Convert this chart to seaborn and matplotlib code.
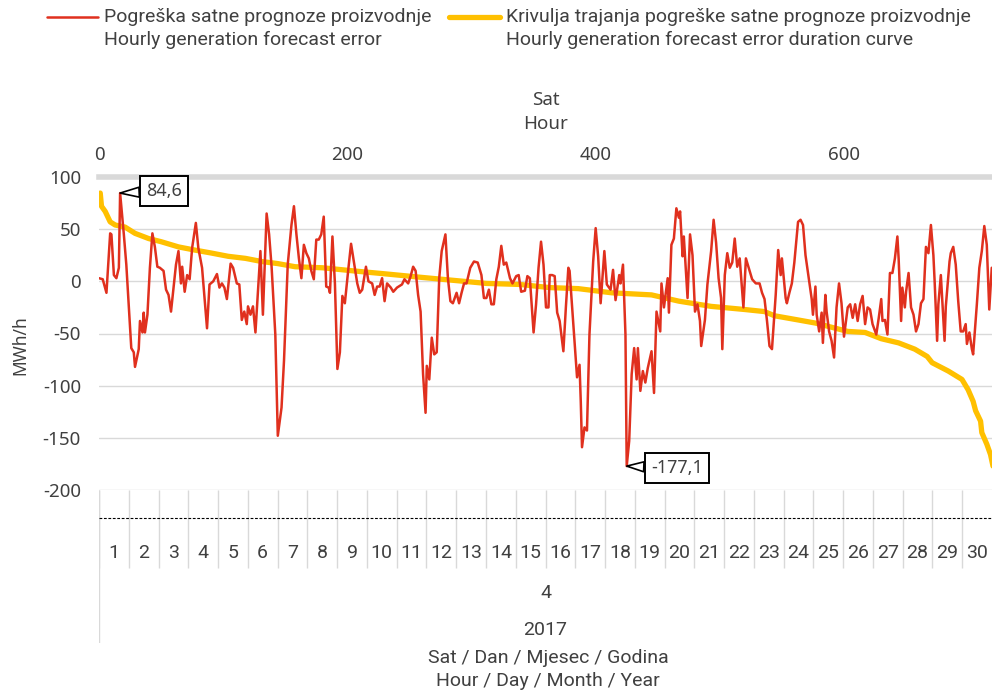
import numpy as np
import pandas as pd
import seaborn as sns
import matplotlib.pyplot as plt
from matplotlib.lines import Line2D

sns.set_theme(style="white")
plt.rcParams['font.family'] = ['Noto Sans', 'DejaVu Sans']
NARROW = ['Roboto', 'DejaVu Sans']

# hourly forecast error, April 2017
red_hours = [0, 3, 6, 9, 10, 12, 14, 16, 17, 20, 22, 26, 28, 29, 32, 33, 35, 36, 37, 39,
             41, 43, 45, 47, 49, 52, 54, 56, 58, 60, 62, 64, 66, 67, 69, 71, 73, 75, 78, 80,
             83, 87, 89, 92, 95, 97, 99, 101, 103, 106, 108, 111, 113, 115, 117, 119, 120, 122, 124, 126,
             128, 130, 132, 135, 137, 139, 142, 144, 147, 149, 152, 155, 157, 159, 161, 163, 165, 167, 169, 171,
             173, 175, 177, 179, 181, 183, 185, 186, 188, 190, 192, 194, 196, 198, 201, 203, 206, 208, 210, 212,
             215, 217, 220, 222, 224, 226, 228, 230, 232, 235, 237, 240, 244, 246, 249, 251, 253, 255, 257, 259,
             261, 263, 264, 266, 268, 270, 272, 274, 276, 279, 281, 283, 285, 288, 290, 292, 294, 296, 299, 302,
             305, 307, 308, 310, 312, 314, 316, 318, 320, 322, 324, 326, 328, 331, 333, 336, 338, 340, 343, 345,
             347, 350, 352, 354, 356, 358, 360, 362, 363, 365, 367, 369, 371, 374, 376, 378, 379, 382, 384, 385,
             387, 388, 389, 391, 393, 395, 398, 400, 402, 404, 407, 409, 412, 414, 416, 419, 420, 422, 424, 425,
             427, 429, 431, 433, 434, 436, 438, 440, 442, 445, 447, 449, 452, 453, 455, 458, 459, 461, 463, 465,
             467, 468, 470, 471, 474, 476, 478, 480, 482, 484, 485, 488, 490, 493, 495, 497, 499, 501, 502, 504,
             506, 508, 510, 512, 514, 516, 519, 521, 524, 526, 529, 532, 534, 536, 538, 540, 542, 545, 547, 549,
             550, 553, 554, 556, 558, 560, 563, 565, 567, 569, 571, 574, 575, 577, 578, 580, 582, 583, 585, 586,
             588, 590, 592, 594, 596, 598, 600, 603, 605, 607, 609, 611, 613, 615, 617, 619, 621, 623, 626, 628,
             630, 631, 633, 635, 637, 639, 641, 643, 644, 646, 647, 649, 650, 652, 654, 656, 658, 660, 662, 664,
             666, 668, 670, 672, 673, 675, 676, 678, 681, 682, 685, 686, 688, 690, 692, 694, 696, 698, 699, 701,
             703, 704, 707, 709, 711, 713, 715, 717, 719]
red_mwh = [3, 2, -11, 46, 45, 6, 3, 13, 84.6, 45, 16, -64, -68, -82, -65, -38, -49, -30, -49, -32,
           13, 46, 33, 14, 13, 10, -8, -13, -29, -6, 16, 29, -2, 14, -10, 6, 2, 32, 56, 32,
           13, -45, -3, 0, 7, -6, -2, -6, -17, 17, 13, -2, -3, -37, -29, -41, -24, -32, -24, -49,
           -10, 29, -32, 65, 45, 14, -51, -148, -121, -76, 16, 54, 72, 45, 22, 3, 35, 27, 22, 10,
           2, 40, 40, 45, 62, -5, -6, -11, 43, -2, -84, -68, -14, -21, 14, 36, 13, -2, -11, -8,
           14, 0, -2, -13, -5, -5, 3, -19, -2, -6, -10, -6, -3, 2, -2, 5, 14, 10, -13, -29,
           -89, -126, -81, -94, -54, -70, -68, 3, 29, 45, 3, -19, -21, -11, -21, -11, -2, -2, 13, 19,
           18, 10, 6, -16, -16, -8, -22, -22, 2, 14, 34, 16, 18, 3, -2, 5, 6, -10, -9, 5,
           3, -49, -22, 13, 38, 16, -25, -25, 6, 6, 5, -30, -38, -67, -25, 13, 10, -41, -76, -92,
           -80, -115, -159, -140, -143, -51, 19, 51, 24, -21, 29, -3, -8, 11, -18, 6, -2, 16, -51, -177.1,
           -153, -89, -64, -94, -64, -105, -86, -97, -83, -67, -107, -29, -48, -2, -25, 3, -30, 35, 41, 70,
           61, 67, 24, 43, -16, 45, 25, -29, -22, -38, -62, -37, -3, 29, 59, 37, 3, -16, -65, 6,
           27, 13, 18, 41, 14, 22, -25, 22, 10, 2, -2, -2, -11, -17, -38, -62, -65, -13, 30, 6,
           22, -16, -21, -11, -2, 18, 57, 59, 54, 25, 8, -17, -32, -5, -32, -48, -30, -59, -13, -29,
           -48, -57, -73, -25, -2, -21, -53, -25, -22, -35, -22, -38, -22, -14, -41, -25, -27, -41, -51, -35,
           -17, -38, -37, -51, 8, 8, 22, 43, 22, -38, -6, -25, -10, 8, -25, -32, -48, -41, -21, -17,
           33, 27, 54, 25, 0, -57, -22, 6, -57, -24, 19, 27, 33, 16, -19, -48, -48, -41, -60, -49,
           -65, -70, -22, 13, 29, 53, 35, -27, 13]

# duration curve of the same error
dur_hours = [1, 2, 5, 9, 13, 21, 29, 40, 50, 64, 77, 91, 104, 118, 131, 144, 158, 180, 205, 232,
             258, 285, 312, 339, 363, 386, 413, 445, 467, 493, 520, 536, 544, 563, 577, 590, 603, 617, 630, 644,
             657, 667, 671, 684, 695, 700, 704, 706, 710, 711, 715, 718, 720]
dur_mwh = [84.6, 72, 67, 57, 54, 52, 46, 41, 38, 33, 30, 27, 24, 22, 19, 17, 14, 13, 10, 7,
           4, 1, -2, -3, -6, -7, -11, -13, -19, -24, -27, -29, -33, -37, -40, -44, -48, -49, -55, -59,
           -65, -72, -78, -86, -94, -104, -115, -124, -134, -145, -156, -166, -177.1]

days = [str(d) for d in range(1, 31)]
month = "4"
year = "2017"
y_ticks = [-200, -150, -100, -50, 0, 50, 100]
top_ticks = [0, 200, 400, 600]

RED = '#E0301E'
YEL = '#FFC000'
GRID = '#D9D9D9'
TXT = '#404040'

err = pd.DataFrame({'h': red_hours, 'v': red_mwh})
dur = pd.DataFrame({'h': dur_hours, 'v': dur_mwh})

W, H = 992, 690
fig = plt.figure(figsize=(W / 100, H / 100), dpi=100)
ax = fig.add_axes([99 / W, (H - 490) / H, 893 / W, 313 / H])

sns.lineplot(data=err, x='h', y='v', ax=ax, color=RED, lw=1.8, estimator=None, zorder=3)
sns.lineplot(data=dur, x='h', y='v', ax=ax, color=YEL, lw=3.8, estimator=None, zorder=2)

ax.set_xlim(0, 719.2)
ax.set_ylim(-200, 100)
ax.set_yticks(y_ticks)
ax.set_yticklabels([str(t) for t in y_ticks], color=TXT, fontsize=13.5)
ax.tick_params(axis='y', length=0, pad=13)
ax.set_xticks([])
ax.set_xlabel('')
ax.set_ylabel('')
ax.grid(axis='y', color=GRID, lw=1)
for s in ['left', 'right', 'bottom']:
    ax.spines[s].set_visible(False)
ax.spines['top'].set_color(GRID)
ax.spines['top'].set_linewidth(4)

top = ax.secondary_xaxis('top')
top.set_xticks(top_ticks)
top.set_xticklabels([str(t) for t in top_ticks], color=TXT, fontsize=13.5)
top.tick_params(length=0, pad=9)
top.spines['top'].set_visible(False)

fig.text(546 / W, 1 - 100 / H, 'Sat', ha='center', va='center', fontsize=13.5, color=TXT)
fig.text(546 / W, 1 - 124 / H, 'Hour', ha='center', va='center', fontsize=13.5, color=TXT)
fig.text(20 / W, 1 - 345 / H, 'MWh/h', ha='center', va='center', rotation=90, fontsize=12.5, color=TXT)

# data labels for max and min
for fn, dy in [(np.argmax, 2), (np.argmin, -2)]:
    i = fn(red_mwh)
    lab = f"{red_mwh[i]:.1f}".replace('.', ',')
    ax.annotate(lab, xy=(red_hours[i], red_mwh[i]), xytext=(44 if dy > 0 else 50, dy),
                textcoords='offset pixels', ha='center', va='center', fontsize=13, color=TXT,
                bbox=dict(boxstyle='square,pad=0.35', fc='white', ec='black', lw=1.4),
                arrowprops=dict(arrowstyle='wedge,tail_width=0.55,shrink_factor=0.5',
                                fc='white', ec='black', lw=1.2, shrinkA=0, shrinkB=0),
                zorder=5)

# multi-level category axis below the plot
cat = fig.add_axes([99 / W, (H - 643) / H, 893 / W, 153 / H])
cat.set_xlim(0, len(days))
cat.set_ylim(643, 490)
cat.axis('off')
cat.vlines(range(len(days)), 490, 568, color=GRID, lw=1)
cat.vlines(0, 490, 643, color=GRID, lw=1)
cat.axhline(518, color='black', lw=0.8, ls=(0, (2.5, 1.5)), clip_on=False)
for i, d in enumerate(days):
    cat.text(i + 0.5, 553, d, ha='center', va='center', fontsize=14, family=NARROW, color=TXT)
cat.text(len(days) / 2, 593, month, ha='center', va='center', fontsize=14, family=NARROW, color=TXT)
cat.text(len(days) / 2, 630, year, ha='center', va='center', fontsize=14, family=NARROW, color=TXT)

fig.text(548 / W, 1 - 658 / H, 'Sat / Dan / Mjesec / Godina', ha='center', va='center',
         fontsize=14, family=NARROW, color=TXT)
fig.text(548 / W, 1 - 681 / H, 'Hour / Day / Month / Year', ha='center', va='center',
         fontsize=14, family=NARROW, color=TXT)

# legend
fig.add_artist(Line2D([47 / W, 98 / W], [1 - 17 / H, 1 - 17 / H], color=RED, lw=1.8))
fig.add_artist(Line2D([449 / W, 500 / W], [1 - 17 / H, 1 - 17 / H], color=YEL, lw=3.8))
fig.text(104 / W, 1 - 17 / H, 'Pogreška satne prognoze proizvodnje', va='center',
         fontsize=14, family=NARROW, color=TXT)
fig.text(104 / W, 1 - 40 / H, 'Hourly generation forecast error', va='center',
         fontsize=14, family=NARROW, color=TXT)
fig.text(506 / W, 1 - 17 / H, 'Krivulja trajanja pogreške satne prognoze proizvodnje', va='center',
         fontsize=14, family=NARROW, color=TXT)
fig.text(506 / W, 1 - 40 / H, 'Hourly generation forecast error duration curve', va='center',
         fontsize=14, family=NARROW, color=TXT)

fig.savefig('out.png', dpi=100)
